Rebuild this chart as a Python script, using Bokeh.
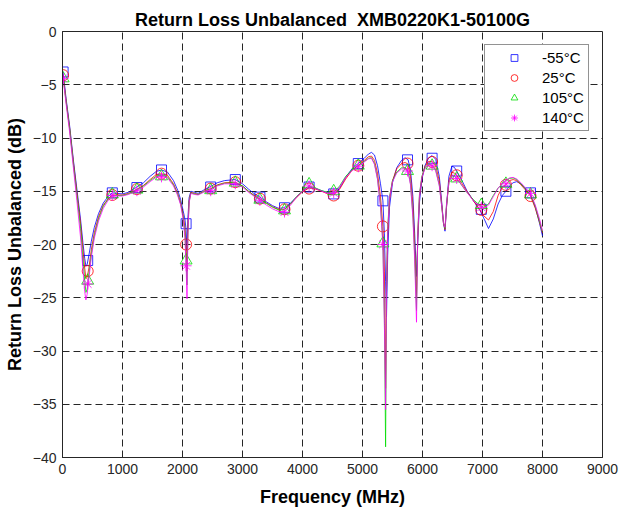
from bokeh.plotting import figure
from bokeh.models import Legend, LegendItem, FixedTicker, Range1d
from bokeh.embed import file_html
from bokeh.resources import INLINE

# ---------------- data ----------------
freq = [10, 60, 120, 180, 240, 300, 340, 370, 390, 410,
        440, 480, 530, 600, 680, 760, 830, 900, 1000, 1100,
        1240, 1350, 1460, 1560, 1650, 1750, 1850, 1920, 1970, 2010,
        2040, 2060, 2075, 2090, 2110, 2140, 2200, 2260, 2350, 2470,
        2580, 2700, 2880, 3000, 3100, 3200, 3290, 3400, 3500, 3600,
        3700, 3800, 3900, 4000, 4110, 4220, 4320, 4420, 4520, 4620,
        4720, 4830, 4930, 5030, 5100, 5150, 5200, 5250, 5300, 5340,
        5365, 5385, 5400, 5420, 5450, 5500, 5570, 5650, 5710, 5760,
        5800, 5840, 5870, 5900, 5920, 5950, 5990, 6040, 6100, 6160,
        6220, 6280, 6320, 6350, 6375, 6400, 6440, 6490, 6530, 6570,
        6650, 6740, 6850, 6950, 7020, 7100, 7180, 7260, 7330, 7390,
        7450, 7510, 7570, 7640, 7720, 7800, 7880, 7950, 8000]

rl_m55 = [-3.8, -6.3, -8.9, -12.0, -14.8, -17.6, -19.8, -21.3, -22.0, -21.9,
          -21.0, -19.7, -18.4, -17.1, -16.1, -15.5, -15.15, -15.2, -15.25, -15.1,
          -14.6, -14.2, -13.6, -13.15, -13.0, -13.2, -14.0, -14.9, -15.8, -16.8,
          -17.6, -18.6, -20.5, -17.5, -15.6, -15.0, -15.1, -15.2, -14.9, -14.55,
          -14.2, -14.0, -13.9, -14.3, -14.8, -15.25, -15.55, -16.0, -16.35, -16.6,
          -16.55, -16.1, -15.55, -15.0, -14.6, -14.75, -14.95, -15.15, -15.25, -14.7,
          -13.7, -12.85, -12.4, -11.9, -11.5, -11.35, -11.6, -12.6, -14.3, -15.9,
          -19.0, -23.5, -26.8, -21.0, -16.5, -14.2, -12.8, -12.1, -11.85, -12.05,
          -13.0, -15.5, -19.0, -23.0, -20.0, -16.0, -13.9, -12.6, -11.9, -11.65,
          -12.0, -13.6, -16.0, -18.0, -18.75, -16.5, -13.6, -12.65, -12.75, -13.1,
          -13.9, -14.95, -15.9, -16.7, -17.5, -18.5, -17.6, -16.2, -15.4, -15.0,
          -14.5, -14.2, -14.1, -14.3, -14.8, -15.3, -16.5, -18.0, -19.2]

rl_25 = [-4.1, -6.5, -9.1, -12.2, -15.1, -18.0, -20.4, -22.2, -23.2, -23.1,
         -22.2, -20.5, -18.9, -17.4, -16.3, -15.7, -15.35, -15.35, -15.35, -15.2,
         -14.8, -14.45, -13.9, -13.45, -13.35, -13.5, -14.3, -15.2, -16.1, -17.2,
         -18.4, -20.0, -22.5, -18.5, -15.9, -15.1, -15.2, -15.3, -15.0, -14.75,
         -14.4, -14.2, -14.15, -14.5, -15.0, -15.4, -15.7, -16.1, -16.45, -16.7,
         -16.7, -16.2, -15.6, -15.05, -14.7, -14.8, -15.0, -15.25, -15.35, -14.8,
         -13.85, -13.0, -12.55, -12.1, -11.75, -11.7, -12.1, -13.3, -15.5, -18.3,
         -22.5, -33.5, -24.0, -19.0, -15.8, -14.0, -12.9, -12.4, -12.3, -12.45,
         -13.6, -16.3, -20.0, -24.9, -19.5, -15.5, -13.7, -12.7, -12.2, -12.2,
         -12.6, -14.0, -16.2, -18.0, -18.6, -16.5, -14.0, -13.2, -13.3, -13.5,
         -14.2, -15.0, -15.9, -16.7, -17.3, -17.7, -16.9, -15.4, -14.6, -14.4,
         -14.0, -13.9, -14.0, -14.4, -14.9, -15.45, -16.6, -17.9, -18.9]

rl_105 = [-4.3, -6.6, -9.2, -12.4, -15.4, -18.5, -21.3, -23.3, -24.5, -24.2,
          -22.8, -20.9, -19.2, -17.6, -16.4, -15.75, -15.4, -15.4, -15.4, -15.25,
          -14.85, -14.5, -14.0, -13.6, -13.5, -13.65, -14.4, -15.3, -16.2, -17.4,
          -18.9, -21.3, -23.8, -18.8, -16.0, -15.15, -15.25, -15.3, -15.05, -14.8,
          -14.45, -14.25, -14.2, -14.5, -15.0, -15.45, -15.75, -16.15, -16.5, -16.75,
          -16.75, -16.2, -15.5, -14.95, -14.5, -14.7, -14.95, -15.1, -15.1, -14.5,
          -13.6, -12.95, -12.6, -12.2, -11.9, -11.85, -12.4, -13.8, -16.3, -19.9,
          -27.0, -39.0, -24.5, -18.5, -15.5, -14.0, -13.2, -12.8, -12.8, -13.1,
          -14.3, -17.2, -21.0, -26.2, -19.0, -15.2, -13.6, -12.8, -12.45, -12.55,
          -13.0, -14.4, -16.4, -18.0, -18.5, -16.3, -14.2, -13.5, -13.6, -13.8,
          -14.4, -15.1, -15.8, -16.3, -16.5, -16.2, -15.4, -14.7, -14.3, -14.0,
          -13.8, -13.75, -13.9, -14.3, -14.8, -15.3, -16.4, -17.8, -18.8]

rl_140 = [-4.4, -6.8, -9.5, -12.7, -15.9, -19.3, -22.3, -24.4, -25.2, -24.7,
          -23.2, -21.2, -19.4, -17.8, -16.6, -15.85, -15.5, -15.45, -15.45, -15.3,
          -14.95, -14.6, -14.1, -13.7, -13.6, -13.75, -14.5, -15.4, -16.3, -17.6,
          -19.3, -22.0, -25.1, -19.0, -16.1, -15.2, -15.3, -15.35, -15.1, -14.9,
          -14.5, -14.3, -14.3, -14.6, -15.1, -15.5, -15.85, -16.3, -16.65, -16.9,
          -16.9, -16.3, -15.55, -15.0, -14.55, -14.75, -15.0, -15.2, -15.2, -14.6,
          -13.7, -13.05, -12.7, -12.25, -11.95, -11.9, -12.5, -13.9, -16.5, -20.0,
          -27.5, -35.5, -25.0, -18.8, -15.6, -14.1, -13.3, -12.9, -12.9, -13.2,
          -14.4, -17.5, -21.5, -27.3, -19.2, -15.3, -13.7, -12.9, -12.5, -12.6,
          -13.1, -14.5, -16.4, -18.0, -18.4, -16.2, -14.2, -13.5, -13.6, -13.8,
          -14.4, -15.1, -15.9, -16.4, -16.6, -16.3, -15.5, -14.7, -14.3, -14.0,
          -13.75, -13.7, -13.85, -14.2, -14.7, -15.2, -16.3, -17.6, -18.7]

mk_freq = [10, 420, 830, 1240, 1650, 2060, 2470, 2880, 3290, 3700,
           4110, 4520, 4930, 5340, 5750, 6160, 6570, 6980, 7390, 7800]
mk_m55 = [-3.8, -21.5, -15.15, -14.65, -13.0, -18.05, -14.6, -13.9, -15.55, -16.55,
          -14.6, -15.25, -12.4, -15.9, -12.05, -11.9, -13.1, -16.7, -15.0, -15.15]
mk_25 = [-4.1, -22.5, -15.35, -14.8, -13.35, -20.0, -14.75, -14.15, -15.7, -16.7,
         -14.75, -15.4, -12.6, -18.3, -12.4, -12.25, -13.5, -16.75, -14.4, -15.45]
mk_105 = [-4.4, -23.4, -15.3, -14.85, -13.6, -21.5, -14.9, -14.2, -15.8, -16.8,
          -14.35, -15.0, -12.6, -19.9, -13.1, -12.6, -13.8, -16.3, -14.3, -15.3]
mk_140 = [-4.4, -23.7, -15.4, -14.95, -13.65, -22.0, -14.95, -14.3, -15.85, -16.95,
          -14.5, -15.15, -12.7, -20.0, -13.1, -12.6, -13.8, -16.5, -14.3, -15.2]

series_labels = ["-55°C", "25°C", "105°C", "140°C"]
x_ticks = [0, 1000, 2000, 3000, 4000, 5000, 6000, 7000, 8000, 9000]
y_ticks = [-40, -35, -30, -25, -20, -15, -10, -5, 0]

# ---------------- figure ----------------
FONT = "Liberation Sans"
p = figure(frame_width=540, frame_height=426, output_backend="svg",
           toolbar_location=None, x_range=Range1d(0, 9000), y_range=Range1d(-40, 0),
           title="Return Loss Unbalanced\u00a0 XMB0220K1-50100G",
           min_border_left=62, min_border_right=19, min_border_top=31, min_border_bottom=5)
p.background_fill_color = "white"
p.border_fill_color = "white"
p.outline_line_color = "#262626"
p.outline_line_width = 1

p.title.align = "center"
p.title.text_font = FONT
p.title.text_font_size = "18px"
p.title.text_font_style = "bold"
p.title.text_color = "black"
p.title.standoff = 4

for ax in (p.xaxis[0], p.yaxis[0]):
    ax.axis_line_color = "#262626"
    ax.major_tick_line_color = "#262626"
    ax.major_tick_in = 5
    ax.major_tick_out = 0
    ax.minor_tick_line_color = None
    ax.major_label_text_font = FONT
    ax.major_label_text_font_size = "14px"
    ax.major_label_text_color = "#262626"
    ax.axis_label_text_font = FONT
    ax.axis_label_text_font_size = "18px"
    ax.axis_label_text_font_style = "bold"
    ax.axis_label_text_color = "black"

p.xaxis.ticker = FixedTicker(ticks=x_ticks)
p.yaxis.ticker = FixedTicker(ticks=y_ticks)
p.xaxis.axis_label = "Frequency (MHz)"
p.yaxis.axis_label = "Return Loss Unbalanced (dB)"
p.xaxis.major_label_standoff = 6
p.xaxis.axis_label_standoff = 10
p.yaxis.major_label_standoff = 6
p.yaxis.axis_label_standoff = 5

for g in (p.xgrid[0], p.ygrid[0]):
    g.grid_line_color = "black"
    g.grid_line_dash = "7 4"
    g.grid_line_alpha = 0.85
    g.grid_line_width = 1

colors = ["#0000ff", "#ff0000", "#00dd00", "#ff00ff"]
lines = [rl_m55, rl_25, rl_105, rl_140]
marks = [mk_m55, mk_25, mk_105, mk_140]
markers = ["square", "circle", "triangle", "asterisk"]
sizes = [10, 11, 12, 11]

items = []
for vals, mvals, c, m, s, lab in zip(lines, marks, colors, markers, sizes, series_labels):
    p.line(freq, vals, line_color=c, line_width=1, line_alpha=0.8)
    r = p.scatter(mk_freq, mvals, marker=m, size=s, line_color=c, fill_color=None,
                  line_width=1, line_alpha=0.8)
    items.append(LegendItem(label=lab, renderers=[r]))

legend = Legend(items=items, location=(422, 326))
legend.border_line_color = "#262626"
legend.border_line_width = 1
legend.background_fill_color = "white"
legend.background_fill_alpha = 1
legend.label_text_font = FONT
legend.label_text_font_size = "15px"
legend.label_text_color = "black"
legend.padding = 4
legend.margin = 0
legend.spacing = 3
legend.glyph_width = 50
legend.glyph_height = 17
legend.label_height = 17
legend.label_standoff = 3
p.add_layout(legend, "center")

open("out.html", "w").write(file_html(p, INLINE))
